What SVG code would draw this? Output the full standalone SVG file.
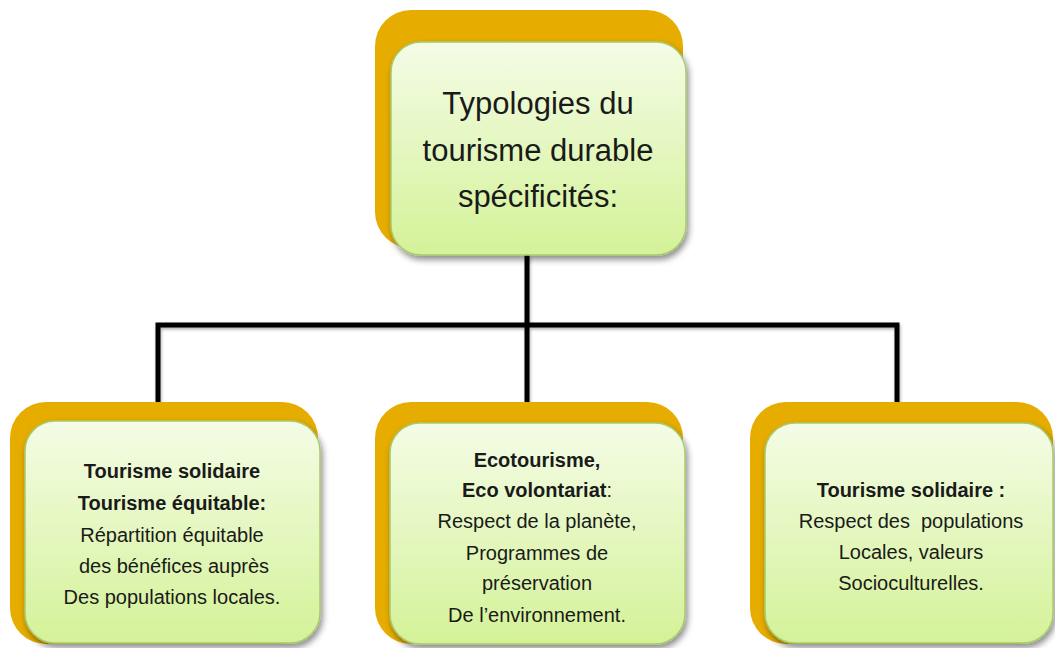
<svg xmlns="http://www.w3.org/2000/svg" width="1055" height="648" viewBox="0 0 1055 648">
<defs>
<linearGradient id="g" x1="0" y1="0" x2="0" y2="1">
<stop offset="0" stop-color="#F4FCE6"/>
<stop offset="1" stop-color="#D4F298"/>
</linearGradient>
<filter id="sh" x="-10%" y="-10%" width="125%" height="125%">
<feDropShadow dx="2" dy="4" stdDeviation="3" flood-color="#000" flood-opacity="0.45"/>
</filter>
<filter id="lsh" x="-5%" y="-50%" width="110%" height="200%">
<feDropShadow dx="1" dy="2" stdDeviation="1.5" flood-color="#000" flood-opacity="0.3"/>
</filter>
</defs>
<style>
.back{fill:#E6AD00}
.front{fill:url(#g);stroke:#A9C96E;stroke-width:1.5;filter:url(#sh)}
.t{font-family:"Liberation Sans",Arial,sans-serif;fill:#1a1a1a;text-anchor:middle}
.big{font-size:31px}
.s{font-size:20px}
.b{font-weight:bold}
.con{fill:none;stroke:#000;stroke-width:5;stroke-linejoin:miter;filter:url(#lsh)}
</style>
<rect width="1055" height="648" fill="#fff"/>
<g id="connectors">
<path class="con" d="M527,255 V325 M158,403 V325 H897 V403 M527,325 V403"/>
</g>
<g id="top">
<rect class="back" x="375" y="10" width="308" height="238" rx="36"/>
<rect class="front" x="391" y="42" width="295" height="213" rx="30"/>
<text class="t big" x="538" y="114">Typologies du</text>
<text class="t big" x="538" y="161">tourisme durable</text>
<text class="t big" x="538" y="207">spécificités:</text>
</g>
<g id="left">
<rect class="back" x="10" y="402" width="308" height="242" rx="36"/>
<rect class="front" x="25" y="421" width="295" height="222" rx="30"/>
<text class="t s b" x="172" y="478">Tourisme solidaire</text>
<text class="t s b" x="172" y="510">Tourisme équitable:</text>
<text class="t s" x="172" y="542">Répartition équitable</text>
<text class="t s" x="174" y="573">des bénéfices auprès</text>
<text class="t s" x="172" y="604">Des populations locales.</text>
</g>
<g id="middle">
<rect class="back" x="375" y="402" width="308" height="242" rx="36"/>
<rect class="front" x="390" y="423" width="295" height="221" rx="30"/>
<text class="t s b" x="537" y="467">Ecotourisme,</text>
<text class="t s" x="537" y="497"><tspan class="b">Eco volontariat</tspan>:</text>
<text class="t s" x="537" y="528">Respect de la planète,</text>
<text class="t s" x="537" y="560">Programmes de</text>
<text class="t s" x="537" y="590">préservation</text>
<text class="t s" x="537" y="622">De l’environnement.</text>
</g>
<g id="right">
<rect class="back" x="750" y="402" width="303" height="242" rx="36"/>
<rect class="front" x="765" y="423" width="288" height="220" rx="30"/>
<text class="t s b" x="911" y="497">Tourisme solidaire :</text>
<text class="t s" x="911" y="528" xml:space="preserve">Respect des  populations</text>
<text class="t s" x="911" y="559">Locales, valeurs</text>
<text class="t s" x="911" y="590">Socioculturelles.</text>
</g>
</svg>
